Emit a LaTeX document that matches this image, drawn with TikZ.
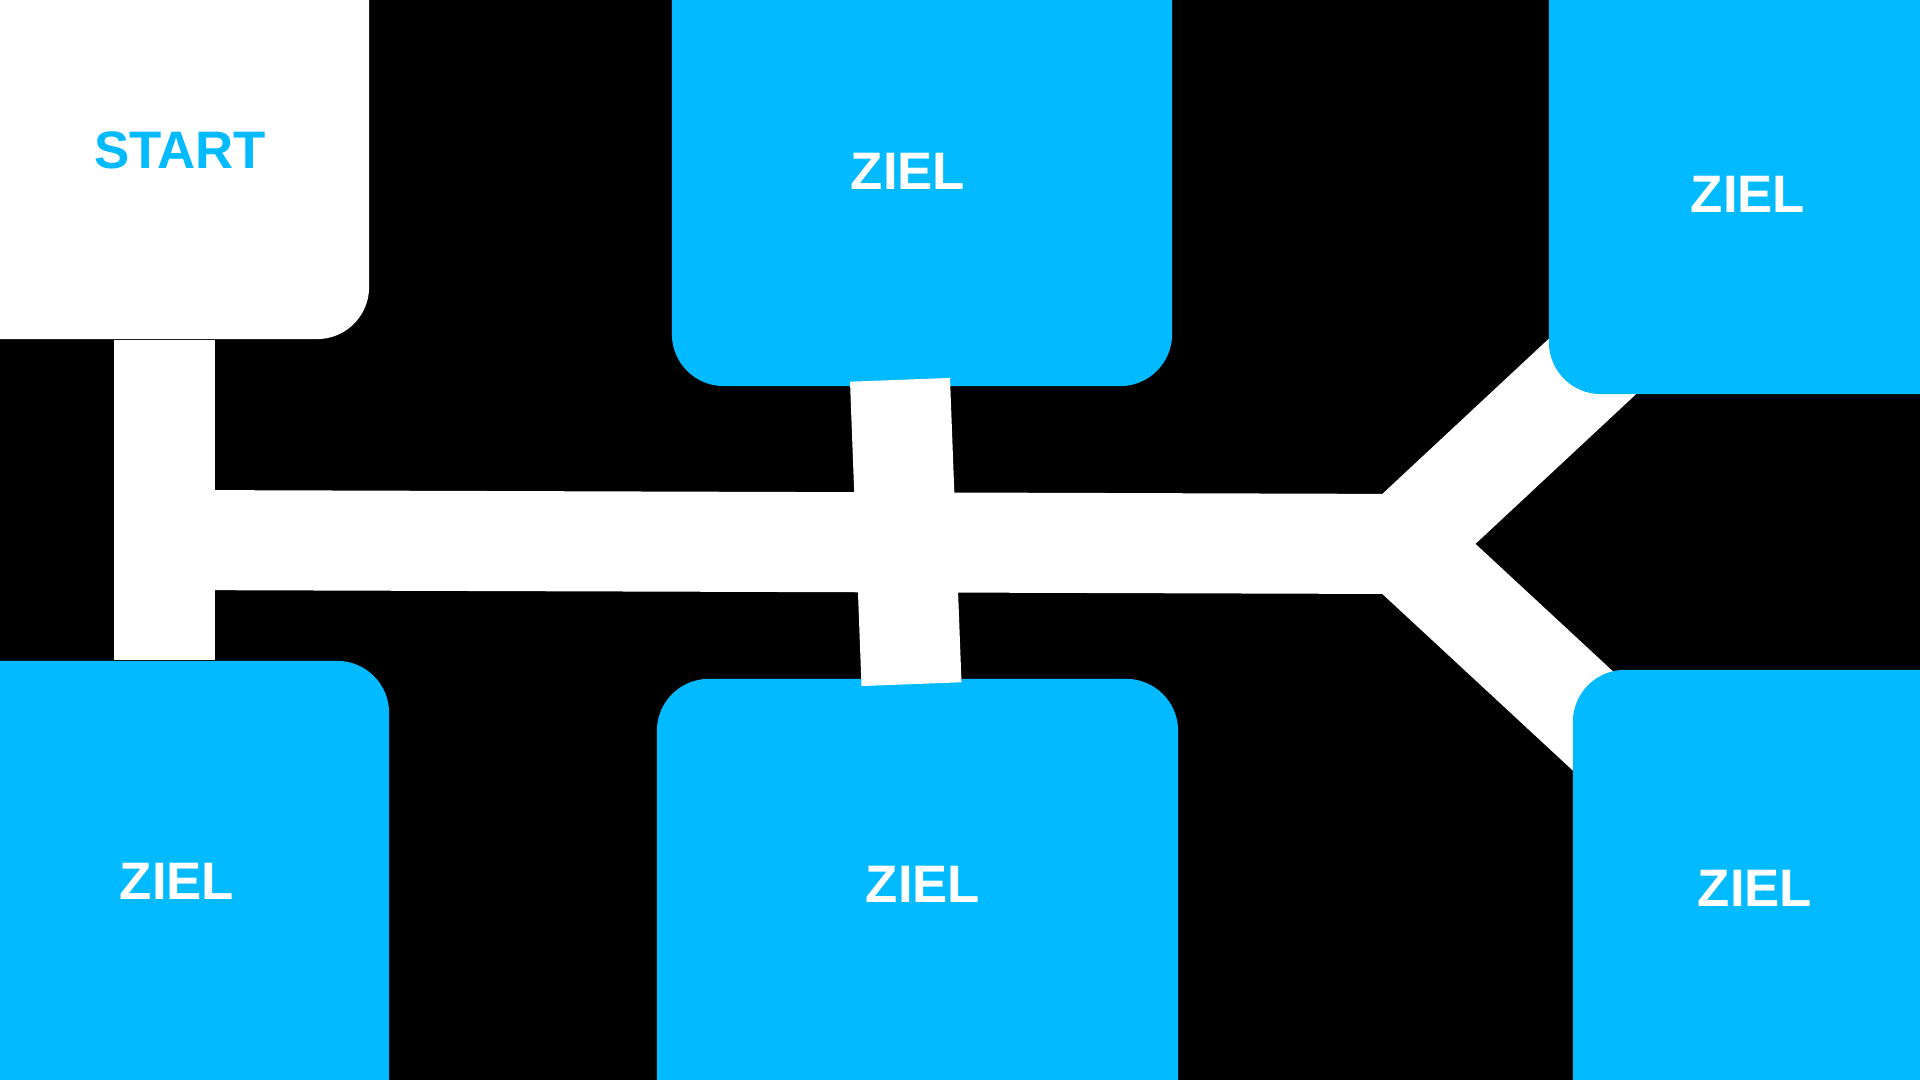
\documentclass[tikz,border=0pt]{standalone}
\usepackage{fontspec}
\setmainfont{Liberation Sans}
\usetikzlibrary{backgrounds}
\definecolor{zielblau}{RGB}{2,186,255}

\begin{document}
\begin{tikzpicture}[x=0.01cm, y=-0.01cm,
    feld/.style={inner sep=0pt, rounded corners=0.52cm},
    weg/.style={white, line width=1cm},
    schrift/.style={inner sep=0pt, font=\fontsize{15}{18}\selectfont\bfseries}]
    % Rahmen
    \useasboundingbox (0,0) rectangle (1920,1080);

    % 1. Felder (ragen über den Rand hinaus)
    \node[feld, fill=white, minimum width=4.29cm, minimum height=3.99cm] (start) at (154.5,139.5) {};
    \node[feld, fill=zielblau, minimum width=5cm, minimum height=4.46cm] (zielTM) at (922,163) {};
    \node[feld, fill=zielblau, minimum width=4.31cm, minimum height=4.54cm] (zielTR) at (1764.5,167) {};
    \node[feld, fill=zielblau, minimum width=4.49cm, minimum height=4.79cm] (zielBL) at (164.5,900.5) {};
    \node[feld, fill=zielblau, minimum width=5.21cm, minimum height=4.61cm] (zielBM) at (917.5,909.5) {};
    \node[feld, fill=zielblau, minimum width=4.07cm, minimum height=4.7cm] (zielBR) at (1776.5,905) {};

    % 2. Wege hinter den Feldern
    \begin{scope}[on background layer]
        \fill[black] (0,0) rectangle (1920,1080);
        \coordinate (knick) at (165,540);
        \coordinate (gabel) at (1402,544);
        \draw[weg] (zielBL.north |- start.south) -- (zielBL.north);
        \draw[weg] (knick) -- (gabel);
        \draw[weg, line join=miter] ([shift={(61,-44)}]zielTR.south west) -- (gabel)
            -- ([shift={(49,78)}]zielBR.north west);
    \end{scope}

    % 3. Querweg in der Mitte
    \draw[weg] ([shift={(-22,-7)}]zielTM.south) -- ([shift={(-6,6)}]zielBM.north);

    % 4. Beschriftung
    \node[schrift, text=zielblau] (startText) at (180,150) {START};
    \node[schrift, text=white] (zielTMText) at (908,171) {ZIEL};
    \node[schrift, text=white] (zielTRText) at (1748,194) {ZIEL};
    \node[schrift, text=white] (zielBLText) at (177,881) {ZIEL};
    \node[schrift, text=white] (zielBMText) at (923,884) {ZIEL};
    \node[schrift, text=white] (zielBRText) at (1755,888) {ZIEL};
\end{tikzpicture}
\end{document}
